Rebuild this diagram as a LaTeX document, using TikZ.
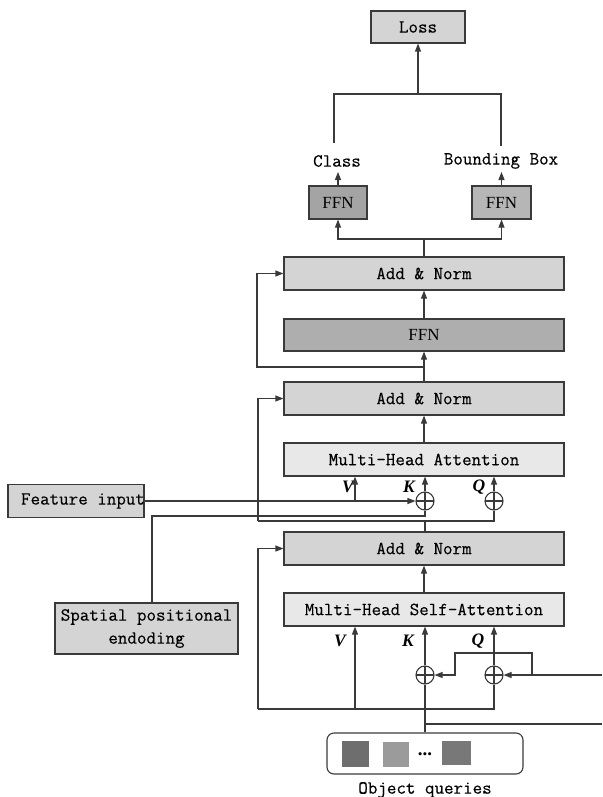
\documentclass[tikz,border=0pt]{standalone}
\usepackage{fontspec}
\newfontfamily\serifr{Liberation Serif}
\newfontfamily\monofam{Latin Modern Mono}[FakeBold=0.3]
\usetikzlibrary{arrows.meta}
\definecolor{lnc}{HTML}{3A3A3A}
\definecolor{an}{HTML}{D4D4D4}
\definecolor{ffnc}{HTML}{AEAEAE}
\definecolor{mhac}{HTML}{E8E8E8}
\definecolor{ffnlc}{HTML}{A4A4A4}
\definecolor{ffnrc}{HTML}{B6B6B6}
\definecolor{sqa}{HTML}{6E6E6E}
\definecolor{sqb}{HTML}{9B9B9B}
\definecolor{sqc}{HTML}{787878}
\newcommand\mymono{\monofam\fontsize{18.5}{23}\selectfont}
\newcommand\myffn{\serifr\fontsize{17}{19}\selectfont}
\newcommand\mylab{\serifr\bfseries\itshape\fontsize{17.5}{19}\selectfont}
\begin{document}
\begin{tikzpicture}[x=1pt,y=-1pt]
\tikzset{
  ln/.style={draw=lnc, line width=1.1pt},
  arr/.style={ln, -{Triangle[length=8pt,width=6pt]}},
  box/.style={draw=lnc, line width=1.1pt, minimum height=33pt, inner sep=0pt, font=\mymono, text=black},
  wide/.style={box, minimum width=280pt},
  txt/.style={inner sep=0pt, font=\mymono, text=black},
  lab/.style={inner sep=0pt, font=\mylab, text=black},
  sq/.style={inner sep=0pt, draw=none},
  oplus/.style={circle, draw=lnc, line width=1.1pt, minimum size=18pt, inner sep=0pt,
    path picture={\draw[lnc, line width=1.1pt] (path picture bounding box.north) -- (path picture bounding box.south)
      (path picture bounding box.west) -- (path picture bounding box.east);}}
}
\useasboundingbox (0,0) rectangle (602,797);

% nodes
\node[box, fill=an, minimum width=94pt, minimum height=32pt] (loss) at (418,27) {Loss};
\node[txt] (cls) at (337,161) {Class};
\node[txt] (bb) at (501,161) {Bounding Box};
\node[box, fill=ffnlc, minimum width=58pt, font=\myffn] (ffnl) at (338,202.5) {FFN};
\node[box, fill=ffnrc, minimum width=59pt, font=\myffn] (ffnr) at (501.5,202.5) {FFN};
\node[wide, fill=an] (an3) at (424,273.5) {Add \& Norm};
\node[wide, fill=ffnc, minimum height=32pt, font=\myffn] (ffn) at (424,335) {FFN};
\node[wide, fill=an] (an2) at (424,398.5) {Add \& Norm};
\node[wide, fill=mhac] (mha) at (424,459.5) {Multi-Head Attention};
\node[wide, fill=an] (an1) at (424,548.5) {Add \& Norm};
\node[wide, fill=mhac] (mhsa) at (424,609.5) {Multi-Head Self-Attention};
\node[box, fill=an, minimum width=136pt] (feat) at (76,501) {};
\node[txt] (feattxt) at (83,501) {Feature input};
\node[box, fill=an, minimum width=183pt, minimum height=51pt, align=center] (spat) at (146.5,628.5) {Spatial positional\\endoding};
\node[draw=lnc, line width=1.1pt, rounded corners=7pt, minimum width=196pt, minimum height=41pt, inner sep=0pt] (oq) at (425,753.5) {};
\node[sq, fill=sqa, minimum width=27pt, minimum height=26pt] (s1) at (355.5,754) {};
\node[sq, fill=sqb, minimum width=26pt, minimum height=25pt] (s2) at (396,754.5) {};
\node[txt, font=\serifr\bfseries\fontsize{19}{20}\selectfont] (dots) at (425,754.5) {...};
\node[sq, fill=sqc, minimum width=29pt, minimum height=24pt] (s3) at (456.5,753) {};
\node[txt] (oqt) at (425,790) {Object queries};

\node[oplus] (k1) at (425,501) {};
\node[oplus] (q1) at (494,501) {};
\node[oplus] (k2) at (425,675) {};
\node[oplus] (q2) at (494,675) {};

\node[lab] (lv1) at (348,487) {V};
\node[lab] (lk1) at (409,487) {K};
\node[lab] (lq1) at (479,487) {Q};
\node[lab] (lv2) at (340,641) {V};
\node[lab] (lk2) at (408,641) {K};
\node[lab] (lq2) at (478,641) {Q};

% top connectors
\coordinate (lj) at (418,94);
\coordinate (cltop) at (334,143);
\coordinate (bbtop) at (501,146);
\draw[ln] (cltop) |- (bbtop |- lj) -- (bbtop);
\draw[arr] (lj) -- (loss.south);
\coordinate (clb) at (338,172);
\coordinate (bbb) at (501.5,172);
\draw[arr] (ffnl.north) -- (clb);
\draw[arr] (ffnr.north) -- (bbb);
\coordinate (sp) at (424,239);
\draw[ln] (an3.north) -- (sp);
\draw[arr] (sp) -| (ffnl.south);
\draw[arr] (sp) -| (ffnr.south);
\draw[arr] (ffn.north) -- (an3.south);
\draw[arr] (an2.north) -- (ffn.south);
\coordinate (r3) at (424,367);
\coordinate (r3l) at (257,367);
\draw[arr] (r3) -- (r3l) |- (an3.west);
\draw[arr] (mha.north) -- (an2.south);

% cross-attention inputs
\coordinate (v1) at (355,501);
\draw[arr] (v1) -- (v1 |- mha.south);
\draw[arr] (k1.north) -- (k1.north |- mha.south);
\draw[arr] (q1.north) -- (q1.north |- mha.south);
\draw[arr] (feat.east) -- (k1.west);
\coordinate (s1c) at (152,516);
\draw[ln] (spat.north -| s1c) -- (s1c) -| (k1.south);
\coordinate (j1) at (425,521);
\coordinate (r2) at (258,521);
\draw[ln] (j1 |- an1.north) -- (j1);
\draw[ln] (r2) -| (q1.south);
\draw[arr] (r2) |- (an2.west);
\draw[arr] (mhsa.north) -- (an1.south);

% self-attention inputs
\coordinate (b1) at (258,709);
\coordinate (v2) at (355,709);
\draw[arr] (b1) |- (an1.west);
\draw[ln] (b1) -| (q2.south);
\draw[arr] (v2) -- (v2 |- mhsa.south);
\draw[ln] (oq.north) -- (k2.south);
\draw[arr] (k2.north) -- (k2.north |- mhsa.south);
\draw[arr] (q2.north) -- (q2.north |- mhsa.south);
\coordinate (e1) at (602,724);
\draw[ln] (e1 -| oq.north) -- (e1);
\coordinate (e2) at (602,675);
\draw[arr] (e2) -- (q2.east);
\coordinate (br) at (532,675);
\coordinate (bt) at (455,653);
\draw[arr] (br) |- (bt) |- (k2.east);
\end{tikzpicture}
\end{document}
